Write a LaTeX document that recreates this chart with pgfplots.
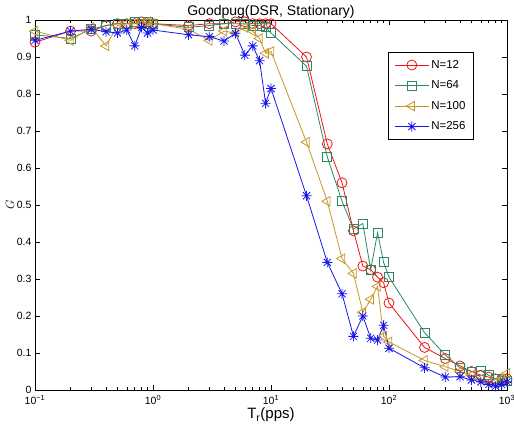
\documentclass[border=0pt]{standalone}
\usepackage{fontspec}
\setmainfont{Liberation Sans}
\usepackage{pgfplots}
\usepackage{pgfplotstable}
\pgfplotsset{compat=1.18}
\definecolor{cred}{RGB}{240,20,20}
\definecolor{cgreen}{RGB}{45,135,100}
\definecolor{corange}{RGB}{200,150,40}
\definecolor{cblue}{RGB}{20,20,240}
\pgfdeclareplotmark{mstar}{%
  \pgfpathmoveto{\pgfqpoint{-\pgfplotmarksize}{0pt}}\pgfpathlineto{\pgfqpoint{\pgfplotmarksize}{0pt}}%
  \pgfpathmoveto{\pgfqpoint{0pt}{-\pgfplotmarksize}}\pgfpathlineto{\pgfqpoint{0pt}{\pgfplotmarksize}}%
  \pgfpathmoveto{\pgfqpoint{-0.707\pgfplotmarksize}{-0.707\pgfplotmarksize}}\pgfpathlineto{\pgfqpoint{0.707\pgfplotmarksize}{0.707\pgfplotmarksize}}%
  \pgfpathmoveto{\pgfqpoint{-0.707\pgfplotmarksize}{0.707\pgfplotmarksize}}\pgfpathlineto{\pgfqpoint{0.707\pgfplotmarksize}{-0.707\pgfplotmarksize}}%
  \pgfusepathqstroke}
\pgfplotstableread{
x r g o b
0.1 0.940 0.960 0.970 0.945
0.2 0.970 0.950 0.945 0.970
0.3 0.970 0.975 0.980 0.975
0.4 0.985 0.985 0.930 0.968
0.5 0.990 0.990 0.985 0.965
0.6 0.990 0.990 0.990 0.973
0.7 0.990 0.995 0.990 0.930
0.8 0.995 0.990 0.990 0.980
0.9 0.990 0.995 0.995 0.965
1   0.990 0.990 0.990 0.973
2   0.985 0.980 0.975 0.960
3   0.990 0.985 0.945 0.955
4   0.990 0.990 0.970 0.943
5   0.995 0.990 0.965 0.964
6   0.995 0.990 0.980 0.905
7   0.990 0.985 0.970 0.930
8   0.990 0.985 0.950 0.890
9   0.990 0.980 0.910 0.775
10  0.990 0.965 0.915 0.815
20  0.900 0.875 0.670 0.525
30  0.665 0.630 0.510 0.345
40  0.560 0.510 0.355 0.260
50  0.430 0.435 0.315 0.145
60  0.335 0.450 0.210 0.200
70  0.325 0.325 0.245 0.140
80  0.305 0.425 0.280 0.135
90  0.290 0.345 0.145 0.175
100 0.235 0.305 0.130 0.113
200 0.115 0.155 0.080 0.060
300 0.085 0.095 0.063 0.035
400 0.065 0.060 0.050 0.036
500 0.050 0.050 0.040 0.027
600 0.040 0.052 0.030 0.022
700 0.035 0.040 0.020 0.015
800 0.030 0.030 0.020 0.010
900 0.030 0.025 0.030 0.015
1000 0.030 0.025 0.045 0.022
}\datatable
\begin{document}
\begin{tikzpicture}
\begin{axis}[
  at={(0pt,0pt)}, anchor=south west,
  scale only axis, width=472pt, height=370pt,
  xmode=log, xmin=0.1, xmax=1000, ymin=0, ymax=1,
  xtick={0.1,1,10,100,1000},
  xticklabels={10\textsuperscript{−1},10\textsuperscript{0},10\textsuperscript{1},10\textsuperscript{2},10\textsuperscript{3}},
  ytick={0,0.1,0.2,0.3,0.4,0.5,0.6,0.7,0.8,0.9,1},
  yticklabels={0,0.1,0.2,0.3,0.4,0.5,0.6,0.7,0.8,0.9,1},
  tick label style={font=\fontsize{10.5}{12}\selectfont},
  xticklabel style={yshift=-1.5pt},
  axis line style={line width=0.9pt},
  major tick length=5pt, minor tick length=3pt,
  tick style={line width=0.6pt, black},
  title={Goodpug(DSR, Stationary)},
  every axis title/.style={at={(0.5,1)}, anchor=base, yshift=4pt, font=\fontsize{14}{16}\selectfont},
  xlabel={T\textsubscript{r}(pps)},
  xlabel style={font=\fontsize{15}{17}\selectfont, yshift=3pt},
  ylabel={$G$},
  ylabel style={font=\fontsize{12}{14}\selectfont, yshift=-4pt},
  every axis plot/.append style={line width=0.8pt, mark size=5pt, mark options={solid, fill=none}},
  legend style={at={(0.93,0.914)}, anchor=north east, draw=black, line width=0.9pt, font=\fontsize{11.5}{13}\selectfont, row sep=7pt, inner xsep=6pt, inner ysep=6pt},
  legend cell align=left,
  legend image code/.code={\draw[#1, line width=0.8pt, mark repeat=2, mark phase=2] plot coordinates {(0cm,0cm) (0.6cm,0cm) (1.2cm,0cm)};},
]
\addplot[color=cred, mark=o] table[x=x, y=r] {\datatable};
\addlegendentry{N=12}
\addplot[color=cgreen, mark=square, mark size=4.5pt] table[x=x, y=g] {\datatable};
\addlegendentry{N=64}
\addplot[color=corange, mark=triangle, mark size=5.5pt, mark options={rotate=90}] table[x=x, y=o] {\datatable};
\addlegendentry{N=100}
\addplot[color=cblue, mark=mstar, mark size=5pt] table[x=x, y=b] {\datatable};
\addlegendentry{N=256}
\end{axis}
\pgfresetboundingbox
\useasboundingbox (-35pt,-42pt) rectangle (479pt,390pt);
\end{tikzpicture}
\end{document}
